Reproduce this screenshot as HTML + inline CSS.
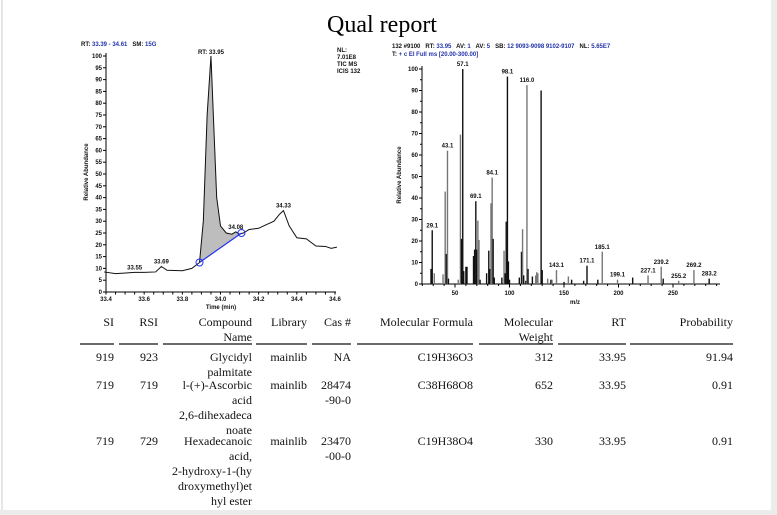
<!DOCTYPE html>
<html><head><meta charset="utf-8"><style>
body{margin:0;background:#fff;width:777px;height:515px;overflow:hidden;position:relative;font-family:"Liberation Serif",serif}
svg{position:absolute;left:0;top:0}
.s{font-family:"Liberation Sans",sans-serif;font-size:6px;font-weight:bold;fill:#111}
.t{font-family:"Liberation Serif",serif;font-size:12px;fill:#111}
</style></head><body>
<svg width="777" height="515">
<rect x="0" y="510" width="777" height="5" fill="#ececec"/>
<rect x="771" y="0" width="6" height="515" fill="#ececec"/>
<line x1="2" y1="0" x2="2" y2="510" stroke="#ccc"/>
<text x="382" y="32" text-anchor="middle" font-size="24" font-family="Liberation Serif,serif">Qual report</text>

<g id="chrom"></g>
<g id="spec"></g>

<g class="t">
<g text-anchor="end">
<text x="114" y="326">SI</text><text x="158" y="326">RSI</text>
<text x="252" y="326">Compound</text><text x="252" y="341">Name</text>
<text x="307" y="326">Library</text><text x="351" y="326">Cas #</text>
<text x="473" y="326">Molecular Formula</text>
<text x="553" y="326">Molecular</text><text x="553" y="341">Weight</text>
<text x="626" y="326">RT</text><text x="733" y="326">Probability</text>

<text x="114" y="361">919</text><text x="158" y="361">923</text>
<text x="252" y="361">Glycidyl</text><text x="252" y="376">palmitate</text>
<text x="307" y="361">mainlib</text><text x="351" y="361">NA</text>
<text x="473" y="361">C19H36O3</text><text x="553" y="361">312</text>
<text x="626" y="361">33.95</text><text x="733" y="361">91.94</text>

<text x="114" y="389">719</text><text x="158" y="389">719</text>
<text x="252" y="389">l-(+)-Ascorbic</text><text x="252" y="404">acid</text>
<text x="252" y="419">2,6-dihexadeca</text><text x="252" y="434">noate</text>
<text x="307" y="389">mainlib</text><text x="351" y="389">28474</text><text x="351" y="404">-90-0</text>
<text x="473" y="389">C38H68O8</text><text x="553" y="389">652</text>
<text x="626" y="389">33.95</text><text x="733" y="389">0.91</text>

<text x="114" y="445">719</text><text x="158" y="445">729</text>
<text x="252" y="445">Hexadecanoic</text><text x="252" y="460">acid,</text>
<text x="252" y="475">2-hydroxy-1-(hy</text><text x="252" y="490">droxymethyl)et</text><text x="252" y="505">hyl ester</text>
<text x="307" y="445">mainlib</text><text x="351" y="445">23470</text><text x="351" y="460">-00-0</text>
<text x="473" y="445">C19H38O4</text><text x="553" y="445">330</text>
<text x="626" y="445">33.95</text><text x="733" y="445">0.91</text>
</g>
<g stroke="#111" stroke-width="1.3">
<line x1="80" y1="344" x2="114" y2="344"/><line x1="119" y1="344" x2="158" y2="344"/>
<line x1="163" y1="344" x2="252" y2="344"/><line x1="256" y1="344" x2="307" y2="344"/>
<line x1="312" y1="344" x2="351" y2="344"/><line x1="357" y1="344" x2="473" y2="344"/>
<line x1="479" y1="344" x2="553" y2="344"/><line x1="558" y1="344" x2="626" y2="344"/>
<line x1="630" y1="344" x2="733" y2="344"/>
</g>
</g>
</svg>
<script>
// Chromatogram data
const chromTimes=[33.39,33.45,33.55,33.6,33.66,33.69,33.72,33.8,33.85,33.89,33.91,33.93,33.95,33.965,33.98,34.0,34.03,34.06,34.08,34.1,34.12,34.15,34.2,34.22,34.28,34.31,34.33,34.36,34.4,34.45,34.5,34.55,34.58,34.61];
const chromAbund=[8.5,7.8,8.3,8.3,8.5,10.8,9.2,9,10,12.5,30,75,100,70,40,28,25,24.5,25.5,24.5,25,26.5,27,27.8,30,33,34.5,28,23,22.5,19.5,19.3,18.5,19];
const chromLabels=["33.55","33.69","34.08","34.33"];
const chromLabelTimes=[33.55,33.69,34.08,34.33];
const chromLabelAbund=[8.3,10.8,25.5,34.5];
const baseStart=[33.89,12.5], baseEnd=[34.11,25];
const chromXTicks=["33.4","33.6","33.8","34.0","34.2","34.4","34.6"];
// Mass spectrum data
const mzVals=[28,29.1,31,39,41,42,43.1,44,53,55,56,57.1,58,60,61,67,68,69.1,70,71,72,73,79,81,82,83,84.1,85,86,93,95,96,97,98.1,99,100,109,111,112,113,115,116.0,117,121,124,125,126,129,130,135,138,139,143.1,150,154,157,168,171.1,181,185.1,199.1,213,227.1,239.2,241,255.2,269.2,283.2];
const mzInt=[7,25,5,4.5,43,14,62,2.5,2,69.5,21,100,6,8,8,13,16,38.5,16,29.5,20.5,2,5,15.5,7,37.5,49.5,21,3,3,15.5,5,29,96.5,10.5,2,3,15,25.5,4,1.5,92.5,7,3.5,4,5.5,5,90,6.5,2.5,2,2,6.5,1,3.5,2,1.5,8.5,2,15,2,3,4,8,2.5,1.5,6.5,2.5];
const mzShade=[0,0,1,1,1,0,1,0,1,1,0,0,0,0,0,0,0,0,0,1,1,0,0,0,0,1,1,0,0,0,1,0,0,0,0,0,0,0,1,0,0,1,0,0,1,1,1,0,0,1,0,1,1,0,1,0,0,0,0,1,1,0,1,1,0,1,1,0];
const mzLabels=["29.1","43.1","57.1","69.1","84.1","98.1","116.0","143.1","171.1","185.1","199.1","227.1","239.2","255.2","269.2","283.2"];
const specXTicks=[50,100,150,200,250];

const NS="http://www.w3.org/2000/svg";
function mk(parent,tag,attrs,txt){const e=document.createElementNS(NS,tag);for(const k in attrs)e.setAttribute(k,attrs[k]);if(txt!==undefined)e.textContent=txt;parent.appendChild(e);return e;}

// ---- chromatogram ----
(function(){
const g=document.getElementById('chrom');
const X=t=>106+(t-33.4)/1.2*229, Y=a=>292-a*2.36;
mk(g,'line',{x1:106,y1:53,x2:106,y2:292,stroke:'#000','stroke-width':1});
mk(g,'line',{x1:106,y1:292,x2:336,y2:292,stroke:'#000','stroke-width':1});
for(let v=0;v<=100;v+=5){mk(g,'line',{x1:103,y1:Y(v),x2:106,y2:Y(v),stroke:'#000'});
const l=mk(g,'text',{x:102,y:Y(v)+2,'text-anchor':'end',class:'s'},String(v));

}
for(let v=33.4;v<=34.601;v+=0.05){mk(g,'line',{x1:X(v),y1:292,x2:X(v),y2:294.5,stroke:'#000'});}
chromXTicks.forEach(s=>{const l=mk(g,'text',{x:X(+s),y:301,'text-anchor':'middle',class:'s'},s);

});
const xt=mk(g,'text',{x:221,y:309,'text-anchor':'middle',class:'s','font-size':'5'},'Time (min)');


const yt=mk(g,'text',{x:0,y:0,transform:'translate(88,172) rotate(-90)','text-anchor':'middle',class:'s',fill:'#223'},'Relative Abundance');


let pts=[];
chromTimes.forEach((t,i)=>{if(t>=baseStart[0]&&t<=baseEnd[0])pts.push(X(t)+','+Y(chromAbund[i]));});
pts.push(X(baseEnd[0])+','+Y(baseEnd[1]));pts.push(X(baseStart[0])+','+Y(baseStart[1]));
const area=mk(g,'polygon',{points:pts.join(' '),fill:'#bdbdbd',stroke:'#666','stroke-width':0.5});


const tr=mk(g,'polyline',{points:chromTimes.map((t,i)=>X(t)+','+Y(chromAbund[i])).join(' '),fill:'none',stroke:'#111','stroke-width':1});


const bl=mk(g,'line',{x1:X(baseStart[0]),y1:Y(baseStart[1]),x2:X(baseEnd[0]),y2:Y(baseEnd[1]),stroke:'#2233ee','stroke-width':1.2});


[baseStart,baseEnd].forEach(p=>{const c=mk(g,'circle',{cx:X(p[0]),cy:Y(p[1]),r:3.5,fill:'none',stroke:'#2233ee','stroke-width':1});

});
chromLabels.forEach((s,i)=>{const l=mk(g,'text',{x:X(chromLabelTimes[i]),y:Y(chromLabelAbund[i])-3,'text-anchor':'middle',class:'s'},s);

});
const rt=mk(g,'text',{x:X(33.95),y:54,'text-anchor':'middle',class:'s'},'RT: 33.95');


const hd=mk(g,'text',{x:81,y:46,class:'s','xml:space':'preserve'});
hd.setAttribute('style','white-space:pre');
hd.innerHTML='RT: <tspan fill="#2233aa">33.39 - 34.61</tspan>   SM: <tspan fill="#2233aa">15G</tspan>';


['NL:','7.01E8','TIC  MS','ICIS 132'].forEach((s,i)=>{const l=mk(g,'text',{x:337,y:52+i*7,class:'s'},s);

});
})();

// ---- mass spectrum ----
(function(){
const g=document.getElementById('spec');
const X=m=>455+(m-50)*1.09, Y=a=>284-a*2.15;
mk(g,'line',{x1:422,y1:66,x2:422,y2:284,stroke:'#000'});
mk(g,'line',{x1:422,y1:284,x2:720,y2:284,stroke:'#000'});
for(let v=0;v<=100;v+=5){mk(g,'line',{x1:v%10?420:419,y1:Y(v),x2:422,y2:Y(v),stroke:'#000'});
if(v%10===0){const l=mk(g,'text',{x:418,y:Y(v)+2,'text-anchor':'end',class:'s'},String(v));

}}
for(let m=20;m<=290;m+=10){mk(g,'line',{x1:X(m),y1:284,x2:X(m),y2:m%50?286:287.5,stroke:'#000'});}
specXTicks.forEach(m=>{const l=mk(g,'text',{x:X(m),y:295,'text-anchor':'middle',class:'s'},String(m));

});
const xt=mk(g,'text',{x:575,y:304,'text-anchor':'middle',class:'s'},'m/z');


const yt=mk(g,'text',{x:0,y:0,transform:'translate(401,175) rotate(-90)','text-anchor':'middle',class:'s',fill:'#223'},'Relative Abundance');


mzVals.forEach((m,i)=>{const b=mk(g,'rect',{x:X(m)-0.7,y:Y(mzInt[i]),width:1.4,height:mzInt[i]*2.15,fill:mzShade[i]?'#777':'#111'});

});
mzLabels.forEach(s=>{const i=mzVals.indexOf(+s);const l=mk(g,'text',{x:X(+s),y:Y(mzInt[i])-3,'text-anchor':'middle',class:'s'},s);

});
const h1=mk(g,'text',{x:392,y:48,class:'s'});
h1.setAttribute('style','white-space:pre');
h1.innerHTML='132 #9100   RT: <tspan fill="#2233aa">33.95</tspan>   AV: <tspan fill="#2233aa">1</tspan>   AV: <tspan fill="#2233aa">5</tspan>   SB: <tspan fill="#2233aa">12 9093-9098 9102-9107</tspan>   NL: <tspan fill="#2233aa">5.65E7</tspan>';


const h2=mk(g,'text',{x:392,y:56,class:'s'});
h2.innerHTML='T: <tspan fill="#2233aa">+ c EI Full ms [20.00-300.00]</tspan>';


})();
</script>
</body></html>
